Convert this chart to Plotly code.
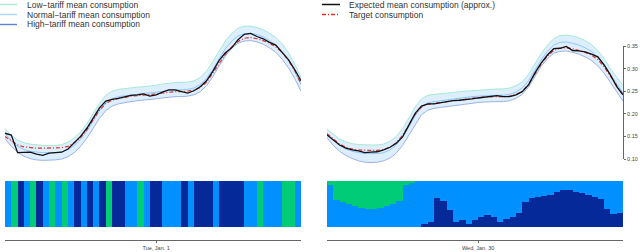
import plotly.graph_objects as go

# ---------------- data ----------------
t_idx = list(range(48))           # half-hour slots
slot_idx = list(range(47))        # tariff intervals

# Left day (Tue, Jan. 1)
expected_L = [0.157, 0.153, 0.114, 0.115, 0.115, 0.111, 0.108, 0.113, 0.114, 0.115, 0.122, 0.135,
              0.150, 0.168, 0.190, 0.213, 0.228, 0.232, 0.234, 0.238, 0.241, 0.242, 0.244, 0.239,
              0.242, 0.248, 0.253, 0.253, 0.249, 0.246, 0.251, 0.260, 0.273, 0.294, 0.318, 0.335,
              0.346, 0.364, 0.376, 0.378, 0.371, 0.366, 0.358, 0.352, 0.336, 0.320, 0.298, 0.273]
target_L = [0.150, 0.140, 0.131, 0.127, 0.125, 0.124, 0.124, 0.124, 0.124, 0.125, 0.128, 0.136,
            0.148, 0.165, 0.187, 0.208, 0.223, 0.230, 0.234, 0.237, 0.239, 0.240, 0.241, 0.242,
            0.244, 0.246, 0.248, 0.249, 0.249, 0.250, 0.252, 0.258, 0.270, 0.290, 0.312, 0.332,
            0.348, 0.360, 0.367, 0.369, 0.366, 0.362, 0.356, 0.348, 0.336, 0.318, 0.296, 0.266]
low_L = [0.168, 0.152, 0.142, 0.136, 0.133, 0.131, 0.130, 0.130, 0.130, 0.132, 0.137, 0.146,
         0.160, 0.178, 0.200, 0.223, 0.241, 0.250, 0.254, 0.256, 0.258, 0.259, 0.260, 0.261,
         0.263, 0.266, 0.268, 0.269, 0.269, 0.270, 0.273, 0.280, 0.294, 0.315, 0.339, 0.361,
         0.378, 0.389, 0.394, 0.394, 0.391, 0.386, 0.378, 0.369, 0.355, 0.336, 0.310, 0.280]
normal_L = [0.157, 0.140, 0.128, 0.121, 0.117, 0.115, 0.114, 0.114, 0.114, 0.116, 0.121, 0.130,
            0.144, 0.162, 0.184, 0.207, 0.224, 0.233, 0.238, 0.240, 0.242, 0.244, 0.245, 0.246,
            0.248, 0.250, 0.252, 0.253, 0.253, 0.254, 0.257, 0.264, 0.278, 0.298, 0.322, 0.344,
            0.361, 0.372, 0.377, 0.378, 0.375, 0.370, 0.362, 0.352, 0.338, 0.319, 0.294, 0.265]
high_L = [0.145, 0.128, 0.115, 0.106, 0.101, 0.098, 0.097, 0.097, 0.098, 0.100, 0.105, 0.114,
          0.128, 0.146, 0.168, 0.190, 0.207, 0.217, 0.222, 0.225, 0.227, 0.229, 0.230, 0.231,
          0.233, 0.235, 0.237, 0.238, 0.238, 0.239, 0.242, 0.249, 0.262, 0.282, 0.306, 0.328,
          0.345, 0.356, 0.361, 0.362, 0.359, 0.354, 0.346, 0.336, 0.321, 0.302, 0.278, 0.250]
tariff_L = ['N', 'L', 'H', 'N', 'L', 'H', 'N', 'L', 'N', 'L', 'N', 'H', 'N', 'H', 'N', 'H',
            'L', 'H', 'H', 'N', 'N', 'L', 'N', 'H', 'H', 'N', 'N', 'N', 'H', 'N', 'H', 'H',
            'H', 'N', 'H', 'H', 'H', 'H', 'N', 'N', 'L', 'N', 'N', 'N', 'L', 'L', 'N']

# Right day (Wed, Jan. 30)
expected_R = [0.153, 0.142, 0.131, 0.124, 0.120, 0.118, 0.114, 0.115, 0.116, 0.120, 0.126, 0.135,
              0.149, 0.175, 0.201, 0.217, 0.222, 0.222, 0.2245, 0.226, 0.229, 0.230, 0.231, 0.233,
              0.235, 0.237, 0.239, 0.240, 0.238, 0.238, 0.242, 0.249, 0.264, 0.290, 0.312, 0.330,
              0.344, 0.345, 0.349, 0.340, 0.339, 0.337, 0.332, 0.326, 0.308, 0.286, 0.260, 0.242]
target_R = [0.156, 0.144, 0.133, 0.126, 0.122, 0.120, 0.119, 0.119, 0.119, 0.121, 0.126, 0.136,
            0.152, 0.175, 0.199, 0.215, 0.221, 0.223, 0.225, 0.227, 0.229, 0.231, 0.232, 0.234,
            0.236, 0.237, 0.238, 0.238, 0.238, 0.239, 0.242, 0.250, 0.265, 0.287, 0.310, 0.328,
            0.340, 0.345, 0.346, 0.344, 0.340, 0.336, 0.330, 0.320, 0.304, 0.284, 0.262, 0.242]
low_R = [0.166, 0.154, 0.144, 0.138, 0.134, 0.132, 0.131, 0.131, 0.131, 0.133, 0.139, 0.150,
         0.167, 0.190, 0.215, 0.233, 0.241, 0.243, 0.244, 0.245, 0.247, 0.249, 0.250, 0.252,
         0.253, 0.254, 0.255, 0.255, 0.255, 0.257, 0.262, 0.271, 0.287, 0.310, 0.333, 0.352,
         0.366, 0.373, 0.374, 0.372, 0.368, 0.362, 0.353, 0.340, 0.322, 0.300, 0.280, 0.262]
normal_R = [0.157, 0.142, 0.130, 0.122, 0.117, 0.114, 0.112, 0.112, 0.112, 0.114, 0.120, 0.131,
            0.148, 0.171, 0.196, 0.215, 0.224, 0.227, 0.229, 0.231, 0.233, 0.235, 0.236, 0.238,
            0.239, 0.240, 0.241, 0.241, 0.241, 0.243, 0.248, 0.257, 0.273, 0.296, 0.319, 0.338,
            0.352, 0.358, 0.359, 0.356, 0.352, 0.346, 0.338, 0.325, 0.308, 0.287, 0.266, 0.246]
high_R = [0.147, 0.130, 0.117, 0.108, 0.101, 0.096, 0.093, 0.092, 0.093, 0.096, 0.102, 0.113,
          0.130, 0.153, 0.178, 0.198, 0.208, 0.212, 0.214, 0.216, 0.218, 0.220, 0.221, 0.223,
          0.225, 0.226, 0.227, 0.227, 0.227, 0.229, 0.234, 0.243, 0.259, 0.282, 0.305, 0.322,
          0.334, 0.338, 0.339, 0.336, 0.332, 0.326, 0.318, 0.306, 0.290, 0.270, 0.249, 0.228]
low_share_R = [0.09, 0.41, 0.46, 0.50, 0.54, 0.58, 0.61, 0.61, 0.58, 0.54, 0.50, 0.44, 0.09, 0.04,
               0, 0, 0, 0, 0, 0, 0, 0, 0, 0, 0, 0, 0, 0, 0, 0, 0, 0, 0, 0, 0, 0, 0, 0, 0, 0,
               0, 0, 0, 0, 0, 0, 0]
high_share_R = [0, 0, 0, 0, 0, 0, 0, 0, 0, 0, 0, 0, 0, 0, 0, 0.06, 0.11, 0.63, 0.56, 0.36, 0.10,
                0.16, 0.07, 0.16, 0.21, 0.27, 0.21, 0.11, 0.17, 0.21, 0.31, 0.55, 0.64, 0.66, 0.67,
                0.70, 0.76, 0.80, 0.80, 0.76, 0.73, 0.70, 0.66, 0.60, 0.40, 0.29, 0.30]

y_ticks = [0.10, 0.15, 0.20, 0.25, 0.30, 0.35]
y_tick_labels = ['0.10', '0.15', '0.20', '0.25', '0.30', '0.35']
day_labels = ['Tue, Jan. 1', 'Wed, Jan. 30']
day_tick = 24
legend_left = ['Low\u2212tariff mean consumption', 'Normal\u2212tariff mean consumption',
               'High\u2212tariff mean consumption']
legend_right = ['Expected mean consumption (approx.)', 'Target consumption']

# ---------------- styles ----------------
W, H = 640, 252
C_LOW_BAR, C_NORM_BAR, C_HIGH_BAR = '#00CC77', '#0090FF', '#06299A'
C_BAND = '#DDEEFF'
C_LOW_LINE, C_NORM_LINE, C_HIGH_LINE = '#A6EAD2', '#8CC8FF', '#9DB2E6'
C_RED = '#E0302A'
RED_DASH = '4px,2px,1px,2px'
FONT = 'Liberation Sans, Arial, sans-serif'
TXT = '#333333'

def px_x(p):
    return p / W

def px_y(p):
    return 1 - p / H

xdomL = [px_x(5), px_x(301)]
xdomR = [px_x(327), px_x(623)]
ydom_top = [px_y(170), px_y(20)]
ydom_bot = [px_y(227), px_y(181)]
yrange_top = [0.10 - (170 - 159) / 452, 0.10 + (159 - 20) / 452]

fig = go.Figure()

def add_panel(xa, ya, low, normal, high, expected, target):
    fig.add_trace(go.Scatter(x=t_idx, y=high, mode='lines', line=dict(color=C_HIGH_LINE, width=1),
                             xaxis=xa, yaxis=ya, showlegend=False, hoverinfo='skip'))
    fig.add_trace(go.Scatter(x=t_idx, y=low, mode='lines', line=dict(color=C_LOW_LINE, width=1),
                             fill='tonexty', fillcolor=C_BAND,
                             xaxis=xa, yaxis=ya, showlegend=False, hoverinfo='skip'))
    fig.add_trace(go.Scatter(x=t_idx, y=normal, mode='lines', line=dict(color=C_NORM_LINE, width=1),
                             xaxis=xa, yaxis=ya, showlegend=False, hoverinfo='skip'))
    fig.add_trace(go.Scatter(x=t_idx, y=target, mode='lines',
                             line=dict(color=C_RED, width=1.2, dash=RED_DASH),
                             xaxis=xa, yaxis=ya, showlegend=False, hoverinfo='skip'))
    fig.add_trace(go.Scatter(x=t_idx, y=expected, mode='lines', line=dict(color='#111111', width=1.3),
                             xaxis=xa, yaxis=ya, showlegend=False, hoverinfo='skip'))

add_panel('x', 'y', low_L, normal_L, high_L, expected_L, target_L)
add_panel('x2', 'y2', low_R, normal_R, high_R, expected_R, target_R)

# tariff bars
bar_x = [i + 0.5 for i in slot_idx]
share_L = {k: [1 if t == k else 0 for t in tariff_L] for k in ['H', 'N', 'L']}
share_R = {'H': high_share_R, 'L': low_share_R,
           'N': [round(1 - a - b, 4) for a, b in zip(low_share_R, high_share_R)]}
colors = {'H': C_HIGH_BAR, 'N': C_NORM_BAR, 'L': C_LOW_BAR}
for xa, ya, shares in [('x3', 'y3', share_L), ('x4', 'y4', share_R)]:
    for k in ['H', 'N', 'L']:
        fig.add_trace(go.Bar(x=bar_x, y=shares[k], width=1, marker=dict(color=colors[k], line=dict(width=0)),
                             xaxis=xa, yaxis=ya, showlegend=False, hoverinfo='skip'))

hidden = dict(showgrid=False, zeroline=False, showticklabels=False, ticks='', showline=False)
fig.update_layout(
    width=W, height=H, margin=dict(l=0, r=0, t=0, b=0),
    paper_bgcolor='white', plot_bgcolor='white', barmode='stack', bargap=0,
    font=dict(family=FONT, color=TXT),
    xaxis=dict(domain=xdomL, range=[0, 47], anchor='y', **hidden),
    yaxis=dict(domain=ydom_top, range=yrange_top, anchor='x', **hidden),
    xaxis2=dict(domain=xdomR, range=[0, 47], anchor='y2', **hidden),
    yaxis2=dict(domain=ydom_top, range=yrange_top, anchor='x2', side='right',
                showgrid=False, zeroline=False, showline=False, ticks='outside', ticklen=2,
                tickcolor='#666666', tickwidth=1, tickvals=y_ticks, ticktext=y_tick_labels,
                tickfont=dict(size=5.5, color='#444444', family=FONT)),
    xaxis3=dict(domain=xdomL, range=[0, 47], anchor='free', position=px_y(240),
                showgrid=False, zeroline=False, showline=True, linecolor='#666666', linewidth=1,
                ticks='outside', ticklen=2, tickcolor='#666666', tickvals=[day_tick],
                ticktext=[day_labels[0]], tickfont=dict(size=5.5, color='#444444', family=FONT)),
    yaxis3=dict(domain=ydom_bot, range=[0, 1], anchor='x3', **hidden),
    xaxis4=dict(domain=xdomR, range=[0, 47], anchor='free', position=px_y(240),
                showgrid=False, zeroline=False, showline=True, linecolor='#666666', linewidth=1,
                ticks='outside', ticklen=2, tickcolor='#666666', tickvals=[day_tick],
                ticktext=[day_labels[1]], tickfont=dict(size=5.5, color='#444444', family=FONT)),
    yaxis4=dict(domain=ydom_bot, range=[0, 1], anchor='x4', **hidden),
)

shapes = []
# right y-axis line (spans tick range only)
shapes.append(dict(type='line', xref='paper', yref='y2', x0=px_x(623.5), x1=px_x(623.5),
                   y0=y_ticks[0], y1=y_ticks[-1], line=dict(color='#666666', width=1)))

annotations = []
leg_left_styles = [dict(color=C_LOW_LINE, width=1.4), dict(color='#A8D4FF', width=1.4),
                   dict(color='#5F82D2', width=1.4)]
for i, (txt, st) in enumerate(zip(legend_left, leg_left_styles)):
    yy = px_y(4.5 + 10 * i)
    shapes.append(dict(type='line', xref='paper', yref='paper', x0=0, x1=px_x(17), y0=yy, y1=yy, line=st))
    annotations.append(dict(text=txt, xref='paper', yref='paper', x=px_x(25), y=yy, xanchor='left',
                            yanchor='middle', showarrow=False, font=dict(size=8.5, color=TXT, family=FONT)))
leg_right_styles = [dict(color='#111111', width=1.5), dict(color=C_RED, width=1.3, dash=RED_DASH)]
for i, (txt, st) in enumerate(zip(legend_right, leg_right_styles)):
    yy = px_y(4.5 + 10 * i)
    shapes.append(dict(type='line', xref='paper', yref='paper', x0=px_x(322), x1=px_x(340), y0=yy, y1=yy, line=st))
    annotations.append(dict(text=txt, xref='paper', yref='paper', x=px_x(347), y=yy, xanchor='left',
                            yanchor='middle', showarrow=False, font=dict(size=8.5, color=TXT, family=FONT)))

fig.update_layout(shapes=shapes, annotations=annotations)
fig.write_html('out.html', config={'displayModeBar': False},
               post_script="document.body.style.margin='0';document.body.style.overflow='hidden';")
